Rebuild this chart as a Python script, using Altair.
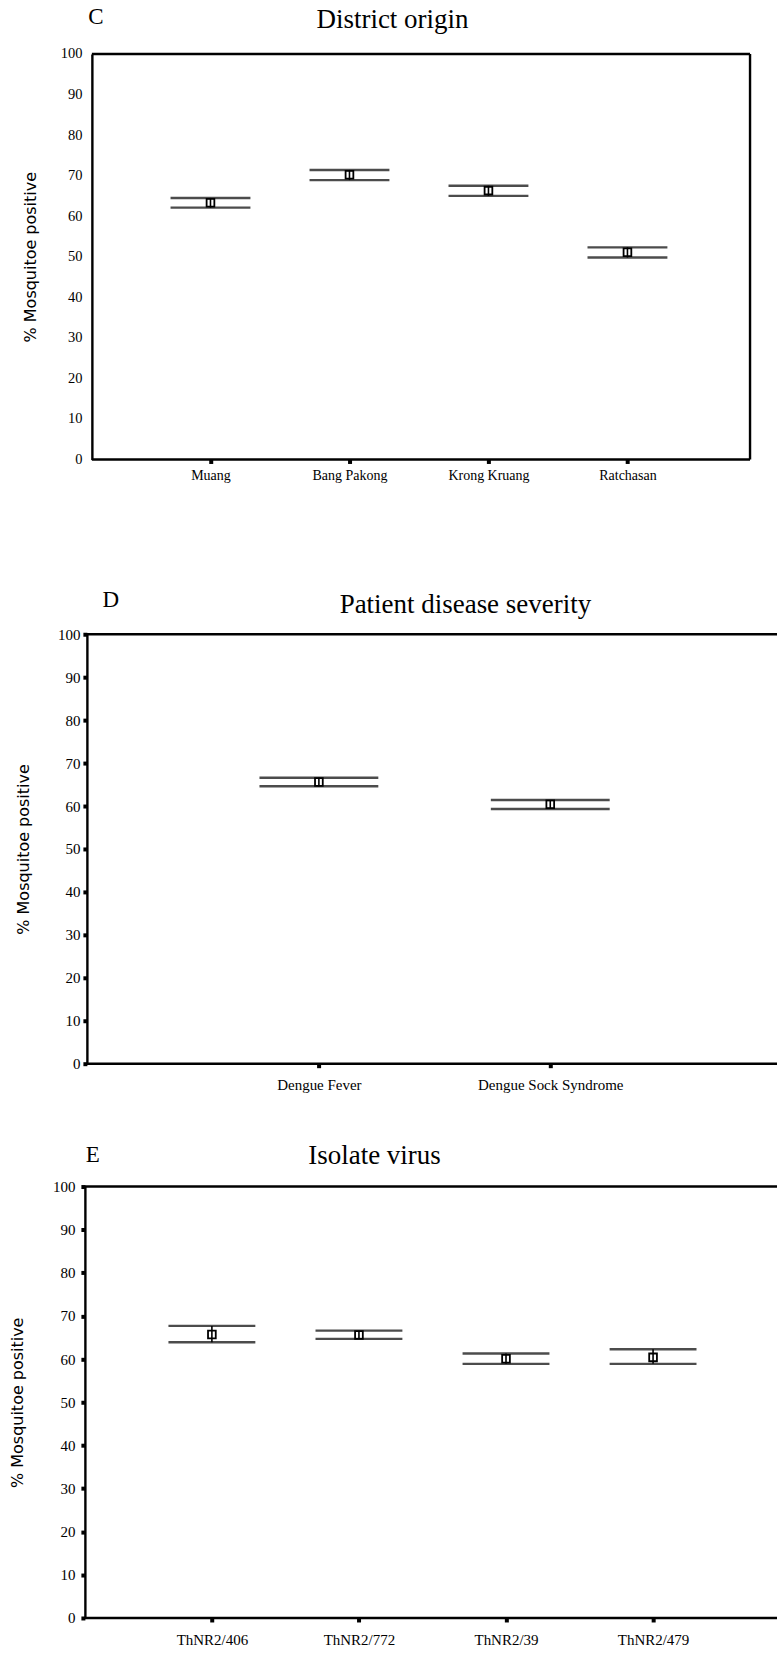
import altair as alt
import pandas as pd

# ---------------- data ----------------
y_ticks = [0, 10, 20, 30, 40, 50, 60, 70, 80, 90, 100]
y_title = "% Mosquitoe positive"

c_cats = ["Muang", "Bang Pakong", "Krong Kruang", "Ratchasan"]
c_mean = [63.3, 70.2, 66.3, 51.1]
c_upper = [64.5, 71.4, 67.5, 52.3]
c_lower = [62.1, 68.9, 65.0, 49.8]

d_cats = ["Dengue Fever", "Dengue Sock Syndrome"]
d_mean = [65.6, 60.4]
d_upper = [66.6, 61.4]
d_lower = [64.6, 59.3]

e_cats = ["ThNR2/406", "ThNR2/772", "ThNR2/39", "ThNR2/479"]
e_mean = [65.7, 65.6, 60.1, 60.4]
e_upper = [67.7, 66.6, 61.3, 62.3]
e_lower = [63.9, 64.7, 58.9, 58.9]

SERIF = "Liberation Serif"
SANS = "DejaVu Sans"


def panel(cats, mean, upper, lower, letter, title, W, H, off, pad, cap,
          letter_xy, title_xy, ytitle_x, yticks_on, ylabel_pad, ylabel_size,
          xlabel_pad, xlabel_size, right_border):
    df = pd.DataFrame({"cat": cats, "mean": mean, "upper": upper, "lower": lower})
    one = pd.DataFrame({"v": [0]})

    xscale = alt.Scale(type="point", domain=cats, padding=pad, align=0.51)
    yscale = alt.Scale(domain=[0, 100], nice=False, zero=True)

    x = alt.X("cat:N", scale=xscale, sort=cats,
              axis=alt.Axis(title=None, domain=False, labelAngle=0, grid=False,
                            labelFont=SERIF, labelFontSize=xlabel_size,
                            labelColor="black", ticks=True, tickSize=4,
                            tickWidth=4, tickColor="black",
                            labelPadding=xlabel_pad))
    yaxis = alt.Axis(values=y_ticks, title=y_title, grid=False,
                     titleFont=SANS, titleFontSize=16, titleFontWeight="normal",
                     titleColor="black", titleX=ytitle_x, titleBaseline="middle",
                     labelFont=SERIF, labelFontSize=ylabel_size, labelColor="black",
                     labelPadding=ylabel_pad, domain=True, domainColor="black",
                     domainWidth=2.4, offset=-off,
                     ticks=yticks_on, tickSize=4, tickWidth=4, tickColor="black")

    base = alt.Chart(df)
    upper_cap = base.mark_tick(size=cap, thickness=2.4, color="black",
                               orient="horizontal").encode(
        x=x, y=alt.Y("upper:Q", scale=yscale, axis=yaxis))
    lower_cap = base.mark_tick(size=cap, thickness=2.4, color="black",
                               orient="horizontal").encode(
        x=x, y=alt.Y("lower:Q"))
    whisker = base.mark_rule(strokeWidth=1.6, color="black").encode(
        x=x, y="lower:Q", y2="upper:Q")
    mean_pt = base.mark_point(shape="square", size=60, filled=False,
                              strokeWidth=1.8, color="black", opacity=1).encode(
        x=x, y="mean:Q")

    top = alt.Chart(one).mark_rule(strokeWidth=2.4, color="black").encode(
        x=alt.value(off), x2=alt.value(W), y=alt.datum(100))
    bottom = alt.Chart(one).mark_rule(strokeWidth=2.4, color="black").encode(
        x=alt.value(off), x2=alt.value(W), y=alt.datum(0))

    let_df = pd.DataFrame({"t": [letter]})
    tit_df = pd.DataFrame({"t": [title]})
    letter_txt = alt.Chart(let_df).mark_text(
        font=SERIF, fontSize=23, align="center", baseline="middle",
        color="black").encode(text="t:N", x=alt.value(letter_xy[0]),
                              y=alt.value(letter_xy[1]))
    title_txt = alt.Chart(tit_df).mark_text(
        font=SERIF, fontSize=27, align="center", baseline="middle",
        color="black").encode(text="t:N", x=alt.value(title_xy[0]),
                              y=alt.value(title_xy[1]))

    layers = [upper_cap, lower_cap, whisker, mean_pt, top, bottom,
              letter_txt, title_txt]
    if right_border:
        layers.append(alt.Chart(one).mark_rule(strokeWidth=2.4, color="black").encode(
            x=alt.value(W), y=alt.datum(0), y2=alt.datum(100)))
    return alt.layer(*layers).properties(width=W, height=H)


chart_c = panel(c_cats, c_mean, c_upper, c_lower, "C", "District origin",
                W=668, H=406, off=9, pad=0.90, cap=80,
                letter_xy=(13, -37), title_xy=(310, -34), ytitle_x=-61,
                yticks_on=False, ylabel_pad=10, ylabel_size=14.5,
                xlabel_pad=5, xlabel_size=14, right_border=True)

chart_d = panel(d_cats, d_mean, d_upper, d_lower, "D", "Patient disease severity",
                W=695, H=430, off=4, pad=1.0, cap=119,
                letter_xy=(28, -34), title_xy=(383, -29), ytitle_x=-63,
                yticks_on=True, ylabel_pad=3, ylabel_size=15,
                xlabel_pad=10, xlabel_size=15, right_border=False)

chart_e = panel(e_cats, e_mean, e_upper, e_lower, "E", "Isolate virus",
                W=695, H=432, off=2, pad=0.86, cap=87,
                letter_xy=(10, -32), title_xy=(292, -31), ytitle_x=-67,
                yticks_on=True, ylabel_pad=6, ylabel_size=15,
                xlabel_pad=11, xlabel_size=15, right_border=False)

inner = alt.vconcat(chart_c, chart_d, spacing=107)
chart = alt.vconcat(inner, chart_e, spacing=49).configure_view(
    stroke=None).properties(
    background="white",
    padding={"left": 10, "top": 5, "right": 0, "bottom": 0})

chart.save("out.html", embed_options={"renderer": "svg", "actions": False})
